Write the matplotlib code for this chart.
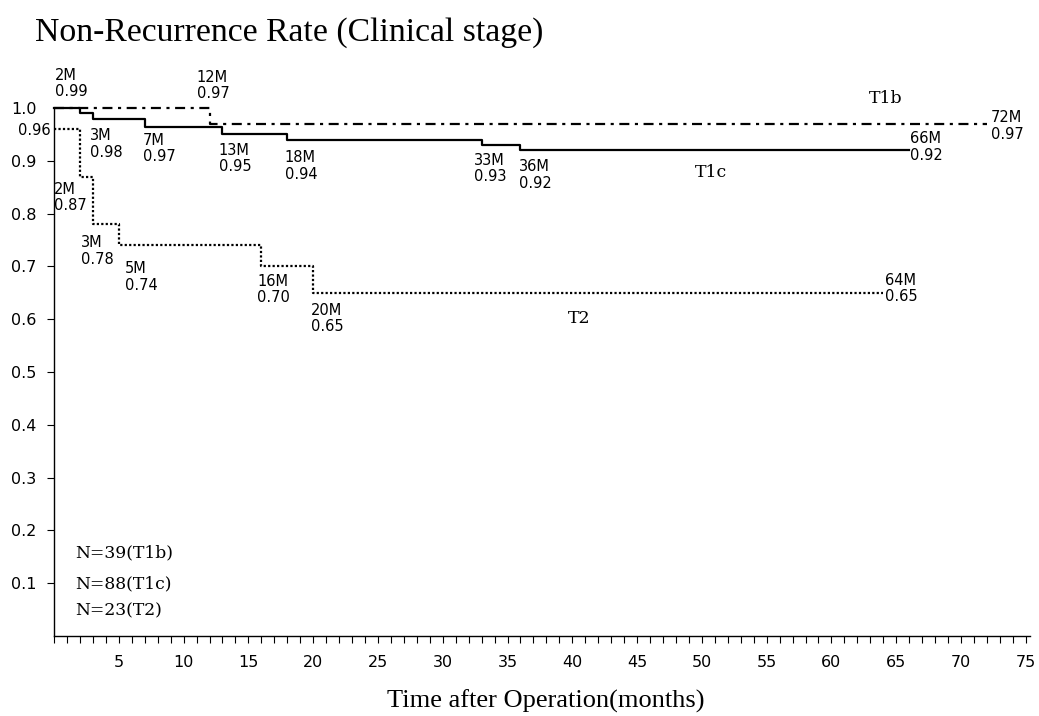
import matplotlib
matplotlib.use("Agg")
import matplotlib.pyplot as plt
from matplotlib.ticker import MultipleLocator

# ---- data ----
t1b_t = [0, 12, 72]
t1b_s = [1.00, 0.97, 0.97]
t1c_t = [0, 2, 3, 7, 13, 18, 33, 36, 66]
t1c_s = [1.00, 0.99, 0.98, 0.965, 0.95, 0.94, 0.93, 0.92, 0.92]
t2_t = [0, 2, 3, 5, 16, 20, 64]
t2_s = [0.96, 0.87, 0.78, 0.74, 0.70, 0.65, 0.65]

ann_text = ["2M\n0.99", "12M\n0.97", "3M\n0.98", "7M\n0.97", "13M\n0.95", "18M\n0.94",
            "33M\n0.93", "36M\n0.92", "66M\n0.92", "72M\n0.97",
            "2M\n0.87", "3M\n0.78", "5M\n0.74", "16M\n0.70", "20M\n0.65", "64M\n0.65"]
ann_x = [0.05, 11.0, 2.8, 6.85, 12.7, 17.8, 32.4, 35.9, 66.1, 72.3,
         0.0, 2.05, 5.5, 15.7, 19.8, 64.1]
ann_y = [1.076, 1.072, 0.962, 0.953, 0.934, 0.920, 0.915, 0.903, 0.956, 0.996,
         0.860, 0.759, 0.710, 0.686, 0.631, 0.688]

curve_names = ["T1b", "T1c", "T2"]
curve_name_x = [64.2, 50.7, 40.5]
curve_name_y = [1.019, 0.877, 0.602]

n_text = ["N=39(T1b)", "N=88(T1c)", "N=23(T2)"]
n_y = [0.157, 0.098, 0.047]

x_ticks = list(range(5, 80, 5))
y_ticks = [0.1, 0.2, 0.3, 0.4, 0.5, 0.6, 0.7, 0.8, 0.9, 1.0]

fig = plt.figure(figsize=(10.39, 7.16), dpi=100)
ax = fig.add_axes([0.052, 0.1117, 0.939, 0.7374])

ax.step(t1b_t, t1b_s, where="post", color="black", lw=1.6,
        ls=(0, (4.5, 2.5, 1.4, 2.5)), clip_on=False)
ax.step(t1c_t, t1c_s, where="post", color="black", lw=1.6, ls="-", clip_on=False)
ax.step(t2_t, t2_s, where="post", color="black", lw=1.6, ls=(0, (1, 1)), clip_on=False)

ax.set_xlim(0, 75.3)
ax.set_ylim(0, 1.0)
ax.spines["top"].set_visible(False)
ax.spines["right"].set_visible(False)
ax.spines["left"].set_linewidth(1.0)
ax.spines["bottom"].set_linewidth(1.0)

ax.set_xticks(x_ticks)
ax.set_xticklabels([str(v) for v in x_ticks])
ax.xaxis.set_minor_locator(MultipleLocator(1))
ax.set_yticks(y_ticks)
ax.set_yticklabels([f"{v:.1f}" for v in y_ticks])
ax.tick_params(axis="both", labelsize=11.5, direction="out", length=5, width=0.8)
ax.tick_params(axis="x", which="minor", length=5, width=0.8)
ax.tick_params(axis="x", pad=9)
ax.tick_params(axis="y", pad=7.5)
ax.yaxis.get_major_ticks()[-1].tick1line.set_visible(False)

for txt, x, y in zip(ann_text, ann_x, ann_y):
    ax.text(x, y, txt, ha="left", va="top", fontsize=10.5, linespacing=1.12,
            family="DejaVu Sans", clip_on=False)

ax.text(-0.25, 0.958, "0.96", ha="right", va="center", fontsize=10.5, clip_on=False)

for name, x, y in zip(curve_names, curve_name_x, curve_name_y):
    ax.text(x, y, name, ha="center", va="center", fontsize=12.5, family="DejaVu Serif",
            clip_on=False)

for txt, y in zip(n_text, n_y):
    ax.text(1.6, y, txt, ha="left", va="center", fontsize=12.3, family="DejaVu Serif")

fig.text(0.034, 0.955, "Non-Recurrence Rate (Clinical stage)", ha="left", va="center",
         fontsize=24.3, family="Liberation Serif")
fig.text(0.525, 0.021, "Time after Operation(months)", ha="center", va="center",
         fontsize=19, family="Liberation Serif")

fig.savefig("out.png", dpi=100)
